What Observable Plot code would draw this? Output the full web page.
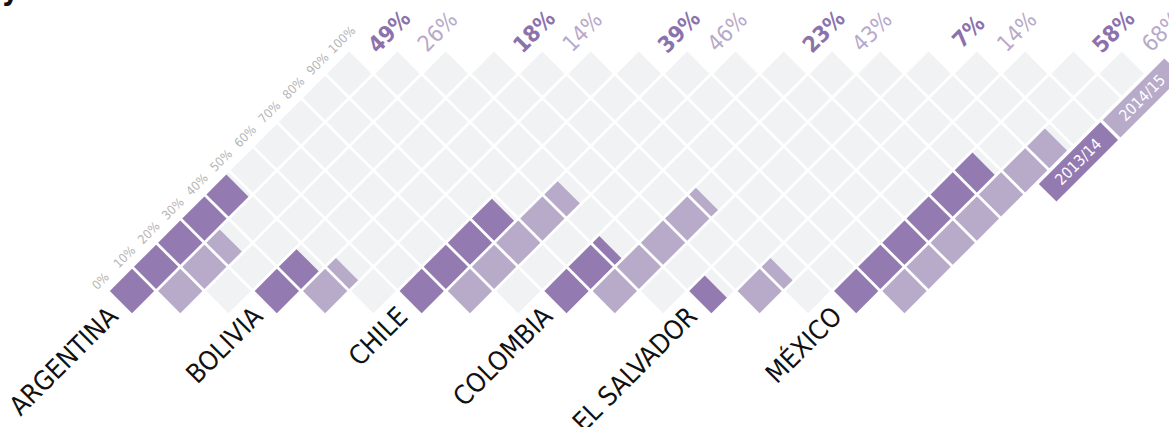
<!DOCTYPE html>
<html>
<head>
<meta charset="utf-8">
<script src="https://cdn.jsdelivr.net/npm/d3@7"></script>
<script src="https://cdn.jsdelivr.net/npm/@observablehq/plot@0.6"></script>
<style>
  html, body { margin: 0; padding: 0; overflow: hidden; background: #fff; }
  #chart svg { overflow: hidden; }
</style>
</head>
<body>
<div id="chart"></div>
<script>
// ---- data ----
const countries = ["ARGENTINA", "BOLIVIA", "CHILE", "COLOMBIA", "EL SALVADOR", "MÉXICO"];
const values2013 = [49, 18, 39, 23, 7, 58];   // 2013/14
const values2014 = [26, 14, 46, 43, 14, 68];  // 2014/15
const seriesNames = ["2013/14", "2014/15"];
const tickLabels = ["0%", "10%", "20%", "30%", "40%", "50%", "60%", "70%", "80%", "90%", "100%"];

// ---- styles ----
const DARK = "#937ab1", LIGHT = "#b8abca", GRAY = "#f1f2f4";
const DARK_TXT = "#8c72ad", LIGHT_TXT = "#b7a9c9";
const FONT = "'DejaVu Sans Condensed', 'Liberation Sans Narrow', 'Roboto Condensed', 'DejaVu Sans', sans-serif";

// grid in rotated coordinates: u = along column (up-right), v = column index (down-right)
// plot coords: X = u + v, Y = u - v
const H = 0.4585;          // half cell length in u units
const CELL_PX = 31.3;      // cell side in pixels
const nCols = countries.length * 3 - 1; // 17 columns (dark, light, gap ...)
const P = (u, v) => ({X: u + v, Y: u - v});

const bg = [];
for (let c = 0; c < nCols; c++) {
  for (let k = 0; k < 10; k++) {
    const a = P(c + k - H, c), b = P(c + k + H, c);
    bg.push({x1: a.X, y1: a.Y, x2: b.X, y2: b.Y});
  }
}

const fills = [];
countries.forEach((name, i) => {
  [values2013[i], values2014[i]].forEach((val, s) => {
    const c = i * 3 + s;
    for (let k = 0; k < 10; k++) {
      const f = Math.max(0, Math.min(1, val / 10 - k));
      if (f <= 0) continue;
      const a = P(c + k - H, c), b = P(c + k - H + 2 * H * f, c);
      fills.push({x1: a.X, y1: a.Y, x2: b.X, y2: b.Y, series: seriesNames[s]});
    }
  });
});

const countryRows = countries.map((name, i) => {
  const c = i * 3; const p = P(c - 0.82, c + 0.05);
  return {x: p.X, y: p.Y, text: name};
});

const topLabels = [];
countries.forEach((name, i) => {
  [values2013[i], values2014[i]].forEach((val, s) => {
    const c = i * 3 + s; const p = P(c + 10.7, c - 0.03);
    topLabels.push({x: p.X, y: p.Y, text: val + "%", series: seriesNames[s]});
  });
});

const tickRows = tickLabels.map((t, k) => {
  const p = P(k - 0.45, -0.85);
  return {x: p.X, y: p.Y, text: t};
});

// legend bands in the column after the last one
const legendV = nCols - 0.07;
const legendRows = seriesNames.map((name, s) => {
  const u1 = 21.0 + s * 2.65, u2 = u1 + 2.55;
  const a = P(u1, legendV), b = P(u2, legendV), m = P((u1 + u2) / 2, legendV);
  return {x1: a.X, y1: a.Y, x2: b.X, y2: b.Y, x: m.X, y: m.Y, text: name};
});

const A = 24.14, X0 = 131.5, Y0 = 290.5;

const chart = Plot.plot({
  width: 1169,
  height: 427,
  margin: 0,
  style: {fontFamily: FONT, background: "#fff"},
  x: {type: "linear", domain: [0, 40], range: [X0, X0 + 40 * A], axis: null},
  y: {type: "linear", domain: [0, 10], range: [Y0, Y0 - 10 * A], axis: null},
  color: {domain: seriesNames, range: [DARK, LIGHT]},
  marks: [
    Plot.link(bg, {x1: "x1", y1: "y1", x2: "x2", y2: "y2", stroke: GRAY, strokeWidth: CELL_PX, strokeLinecap: "butt", strokeOpacity: 1}),
    Plot.link(fills, {x1: "x1", y1: "y1", x2: "x2", y2: "y2", stroke: "series", strokeWidth: CELL_PX, strokeLinecap: "butt", strokeOpacity: 1}),
    Plot.link(legendRows, {x1: "x1", y1: "y1", x2: "x2", y2: "y2", stroke: "text", strokeWidth: 25, strokeLinecap: "butt", strokeOpacity: 1}),
    Plot.text(legendRows, {x: "x", y: "y", text: "text", rotate: -45, fill: "#fff", fontSize: 15.5, fontWeight: 300, lineAnchor: "middle", textAnchor: "middle"}),
    Plot.text(tickRows, {x: "x", y: "y", text: "text", rotate: -45, fill: "#b5b5b5", fontSize: 12.5, fontWeight: 300, lineAnchor: "middle", textAnchor: "middle"}),
    Plot.text(topLabels.filter(d => d.series === seriesNames[0]), {x: "x", y: "y", text: "text", rotate: -45, fill: DARK_TXT, fontSize: 22.5, fontWeight: "bold", lineAnchor: "middle", textAnchor: "middle"}),
    Plot.text(topLabels.filter(d => d.series === seriesNames[1]), {x: "x", y: "y", text: "text", rotate: -45, fill: LIGHT_TXT, fontSize: 22.5, lineAnchor: "middle", textAnchor: "middle"}),
    Plot.text(countryRows, {x: "x", y: "y", text: "text", rotate: -45, fill: "#111", fontSize: 26.5, fontWeight: 300, lineAnchor: "middle", textAnchor: "end"}),
    Plot.text(["y"], {frameAnchor: "top-left", dx: 1, dy: -22, fontSize: 30, fontWeight: "bold", fill: "#111", textAnchor: "start"})
  ]
});
document.getElementById("chart").appendChild(chart);
</script>
</body>
</html>
